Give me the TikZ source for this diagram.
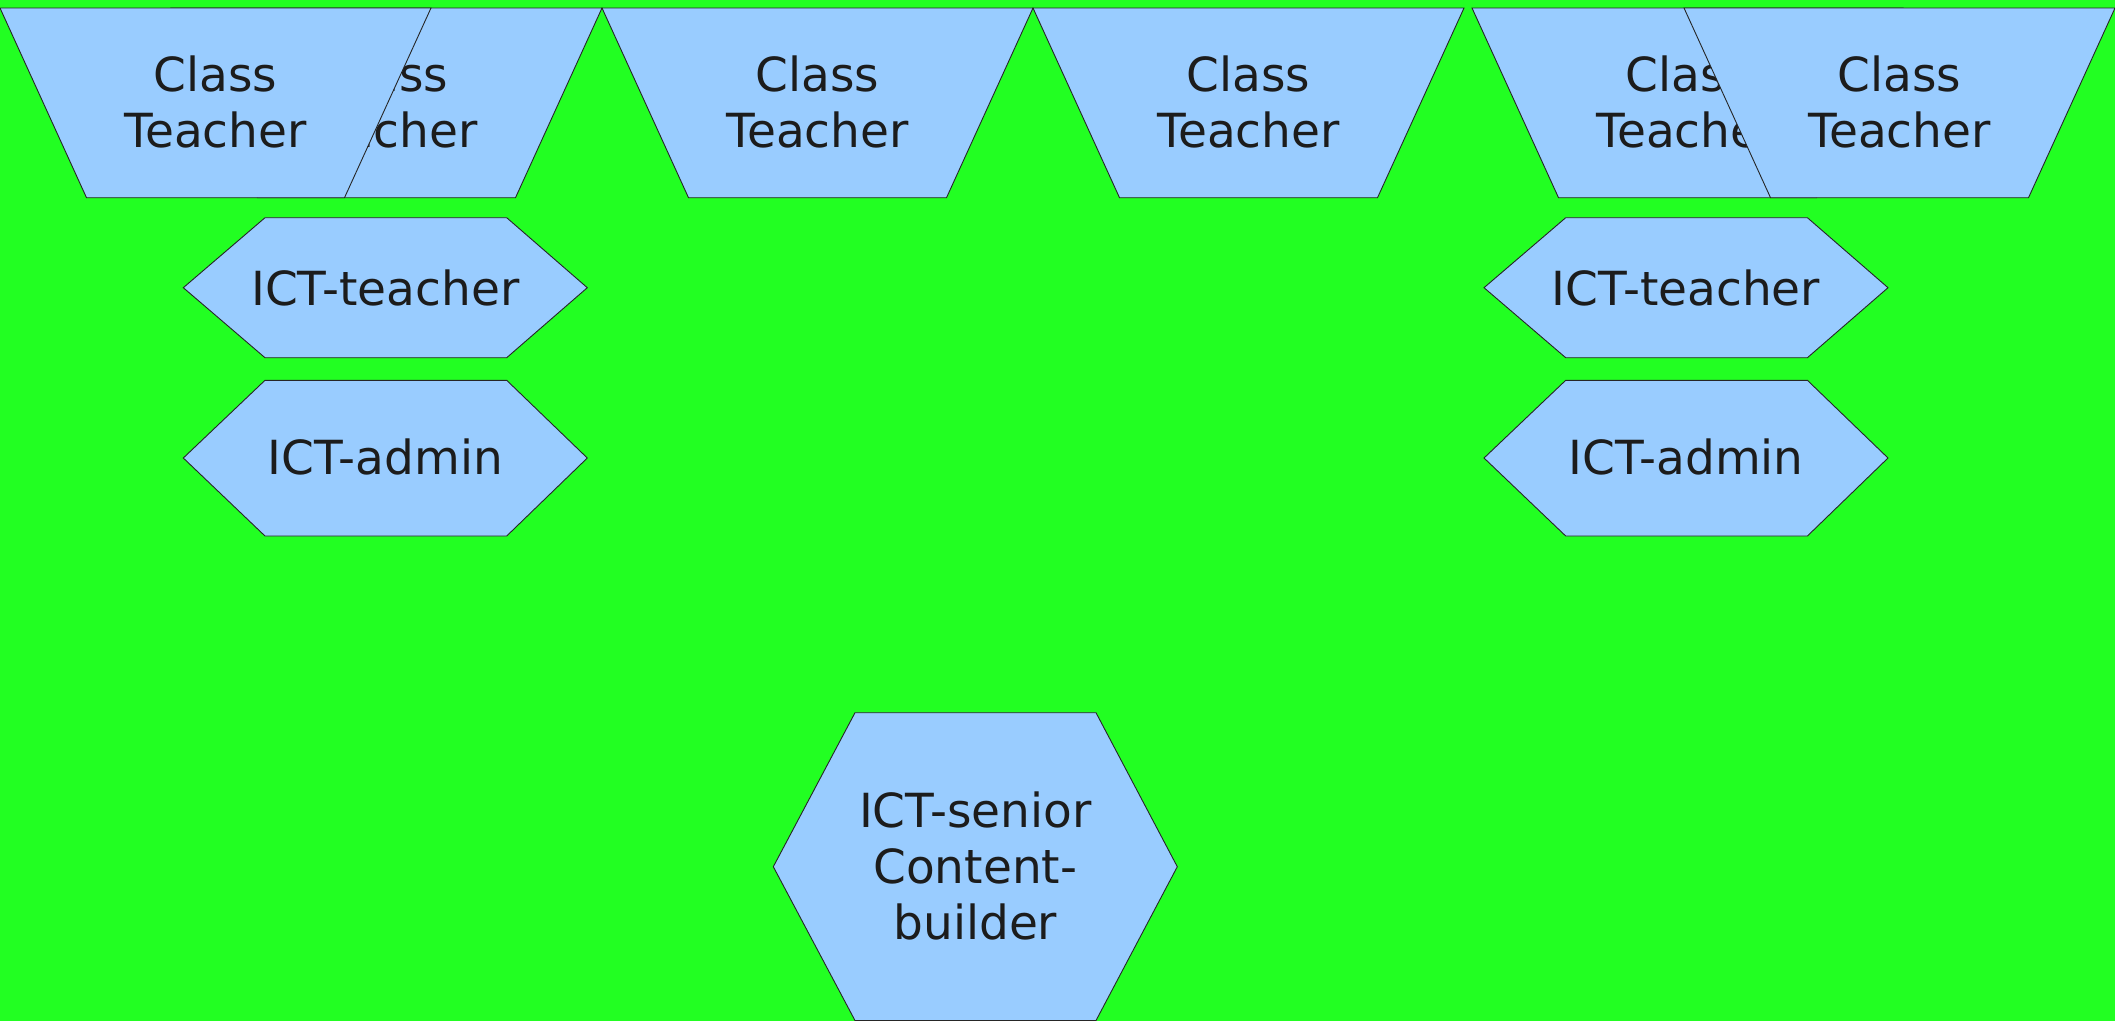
\documentclass[tikz,border=0pt]{standalone}
\usepackage{fontspec}
\setmainfont{DejaVu Sans}
\definecolor{bggreen}{RGB}{34,255,34}
\definecolor{boxblue}{RGB}{153,204,255}
\definecolor{txt}{RGB}{28,28,28}
\begin{document}
\begin{tikzpicture}[x=1pt,y=-1pt,
  shapebox/.style={fill=boxblue,draw=black!85,line width=0.9pt,line join=miter},
  lbl/.style={inner sep=0pt,align=center,text=txt,font=\fontsize{47}{56}\selectfont}]
\fill[bggreen] (0,0) rectangle (2115,1021);
\useasboundingbox (0,0) rectangle (2115,1021);
% trapezoid macro via coordinates: top width 431, bottom inset 86.5
% T2 (behind T1)
\path[shapebox] (171,8) -- (602,8) -- (515.5,197.7) -- (257.5,197.7) -- cycle;
\node[lbl] (t2) at (386.5,102) {Class\\Teacher};
% T1
\path[shapebox] (0,8) -- (431,8) -- (344.5,197.7) -- (86.5,197.7) -- cycle;
\node[lbl] (t1) at (215.5,102) {Class\\Teacher};
% T3
\path[shapebox] (602,8) -- (1033,8) -- (946.5,197.7) -- (688.5,197.7) -- cycle;
\node[lbl] (t3) at (817.5,102) {Class\\Teacher};
% T4
\path[shapebox] (1033,8) -- (1464,8) -- (1377.5,197.7) -- (1119.5,197.7) -- cycle;
\node[lbl] (t4) at (1248.5,102) {Class\\Teacher};
% T5 (behind T6)
\path[shapebox] (1472,8) -- (1903,8) -- (1816.5,197.7) -- (1558.5,197.7) -- cycle;
\node[lbl] (t5) at (1687.5,102) {Class\\Teacher};
% T6
\path[shapebox] (1684,8) -- (2115,8) -- (2028.5,197.7) -- (1770.5,197.7) -- cycle;
\node[lbl] (t6) at (1899.5,102) {Class\\Teacher};
% left ICT-teacher
\path[shapebox] (183.3,287.7) -- (265,217.7) -- (506.7,217.7) -- (587.3,287.7) -- (506.7,357.7) -- (265,357.7) -- cycle;
\node[lbl,anchor=base] (it1) at (385.3,305) {ICT-teacher};
% left ICT-admin
\path[shapebox] (183.3,458) -- (265,380.3) -- (506.7,380.3) -- (587.3,458) -- (506.7,536) -- (265,536) -- cycle;
\node[lbl,anchor=base] (ia1) at (385.3,474) {ICT-admin};
% right ICT-teacher
\path[shapebox] (1484,287.7) -- (1565.7,217.7) -- (1807.4,217.7) -- (1888,287.7) -- (1807.4,357.7) -- (1565.7,357.7) -- cycle;
\node[lbl,anchor=base] (it2) at (1686,305) {ICT-teacher};
% right ICT-admin
\path[shapebox] (1484,458) -- (1565.7,380.3) -- (1807.4,380.3) -- (1888,458) -- (1807.4,536) -- (1565.7,536) -- cycle;
\node[lbl,anchor=base] (ia2) at (1686,474) {ICT-admin};
% ICT-senior
\path[shapebox] (773.3,866.7) -- (855,712.7) -- (1096,712.7) -- (1177.3,866.7) -- (1096,1020.5) -- (855,1020.5) -- cycle;
\node[lbl] (sen) at (975.3,865.5) {ICT-senior\\Content-\\builder};
\end{tikzpicture}
\end{document}
